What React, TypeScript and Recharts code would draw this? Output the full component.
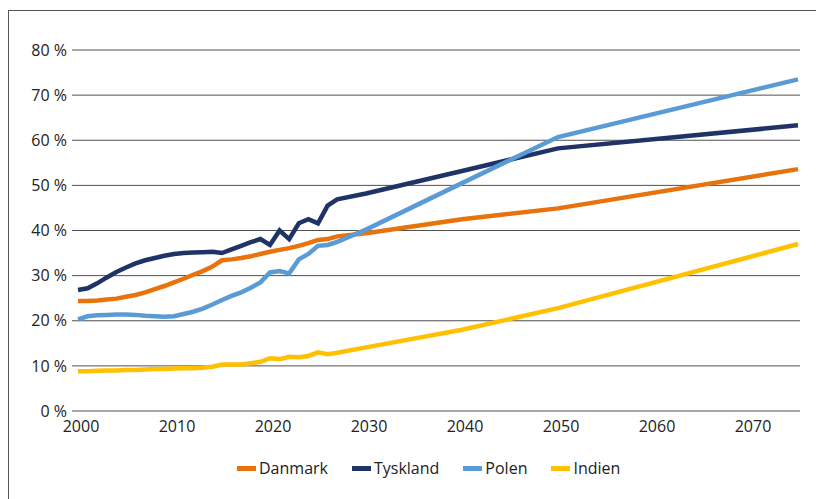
import { LineChart, Line, XAxis, YAxis, CartesianGrid } from "recharts";

const years = [
  2000, 2001, 2002, 2003, 2004, 2005, 2006, 2007, 2008, 2009,
  2010, 2011, 2012, 2013, 2014, 2015, 2016, 2017, 2018, 2019,
  2020, 2021, 2022, 2023, 2024, 2025, 2026, 2027,
  2030, 2040, 2050, 2075,
];

const danmark = [
  24.4, 24.4, 24.5, 24.7, 24.9, 25.3, 25.7, 26.3, 27.0, 27.7,
  28.5, 29.3, 30.2, 31.0, 32.0, 33.4, 33.6, 33.9, 34.3, 34.8,
  35.3, 35.7, 36.1, 36.6, 37.2, 37.9, 38.1, 38.7,
  39.4, 42.5, 44.9, 53.6,
];

const tyskland = [
  26.8, 27.2, 28.3, 29.6, 30.8, 31.8, 32.7, 33.4, 33.9, 34.4,
  34.8, 35.0, 35.1, 35.2, 35.3, 35.0, 35.8, 36.6, 37.4, 38.1,
  36.8, 40.0, 38.1, 41.6, 42.5, 41.6, 45.5, 46.9,
  48.2, 53.2, 58.2, 63.3,
];

const polen = [
  20.3, 21.0, 21.2, 21.3, 21.4, 21.4, 21.3, 21.1, 21.0, 20.9,
  21.0, 21.5, 22.0, 22.7, 23.6, 24.6, 25.5, 26.3, 27.3, 28.5,
  30.7, 31.0, 30.5, 33.6, 34.8, 36.6, 36.8, 37.5,
  40.2, 50.5, 60.7, 73.5,
];

const indien = [
  8.8, 8.8, 8.9, 9.0, 9.0, 9.1, 9.1, 9.2, 9.3, 9.3,
  9.4, 9.5, 9.5, 9.6, 9.8, 10.3, 10.3, 10.3, 10.6, 10.9,
  11.7, 11.5, 12.0, 11.9, 12.2, 13.0, 12.6, 12.9,
  14.1, 18.0, 22.8, 37.0,
];

const xTicks = [2000, 2010, 2020, 2030, 2040, 2050, 2060, 2070];
const yTicks = [0, 10, 20, 30, 40, 50, 60, 70, 80];

const series = [
  { key: "danmark", name: "Danmark", color: "#E8730C" },
  { key: "tyskland", name: "Tyskland", color: "#1F3366" },
  { key: "polen", name: "Polen", color: "#5B9BD5" },
  { key: "indien", name: "Indien", color: "#FFC000" },
];

const data = years.map((year, i) => ({
  year,
  danmark: danmark[i],
  tyskland: tyskland[i],
  polen: polen[i],
  indien: indien[i],
}));

const font = "'Open Sans', sans-serif";
const tickStyle = { fontFamily: font, fontSize: 16, fill: "#222" };

export default function App() {
  return (
    <div style={{ position: "absolute", left: 0, top: 0, width: 816, height: 499, background: "#fff" }}>
      <div
        style={{
          position: "absolute",
          left: 8,
          top: 10,
          right: 0,
          bottom: 0,
          borderTop: "1.5px solid #555",
          borderLeft: "1.5px solid #555",
        }}
      />
      <div style={{ position: "absolute", left: 0, top: 0 }}>
        <LineChart width={816} height={499} data={data} margin={{ top: 50, right: 16, bottom: 58, left: 12 }}>
          <CartesianGrid vertical={false} stroke="#505050" strokeWidth={1} />
          <XAxis
            dataKey="year"
            type="number"
            domain={[2000, 2075]}
            ticks={xTicks}
            padding={{ left: 6, right: 2 }}
            height={30}
            axisLine={false}
            tickLine={false}
            tickSize={6}
            tickMargin={4}
            tick={{ ...tickStyle, dx: 3 }}
          />
          <YAxis
            domain={[0, 80]}
            ticks={yTicks}
            width={60}
            axisLine={false}
            tickLine={false}
            tickSize={3}
            tickMargin={2}
            tick={tickStyle}
            tickFormatter={(v) => `${v} %`}
          />
          {series.map((s) => (
            <Line
              key={s.key}
              dataKey={s.key}
              name={s.name}
              stroke={s.color}
              strokeWidth={4.5}
              dot={false}
              type="linear"
              isAnimationActive={false}
            />
          ))}
        </LineChart>
      </div>
      <div
        style={{
          position: "absolute",
          left: 237,
          top: 457,
          display: "flex",
          alignItems: "center",
          gap: 24,
          fontFamily: font,
          fontSize: 16,
          color: "#222",
          lineHeight: "22px",
        }}
      >
        {series.map((s) => (
          <div key={s.key} style={{ display: "flex", alignItems: "center" }}>
            <span style={{ display: "inline-block", width: 19, height: 5, background: s.color, marginRight: 3 }} />
            <span>{s.name}</span>
          </div>
        ))}
      </div>
    </div>
  );
}
